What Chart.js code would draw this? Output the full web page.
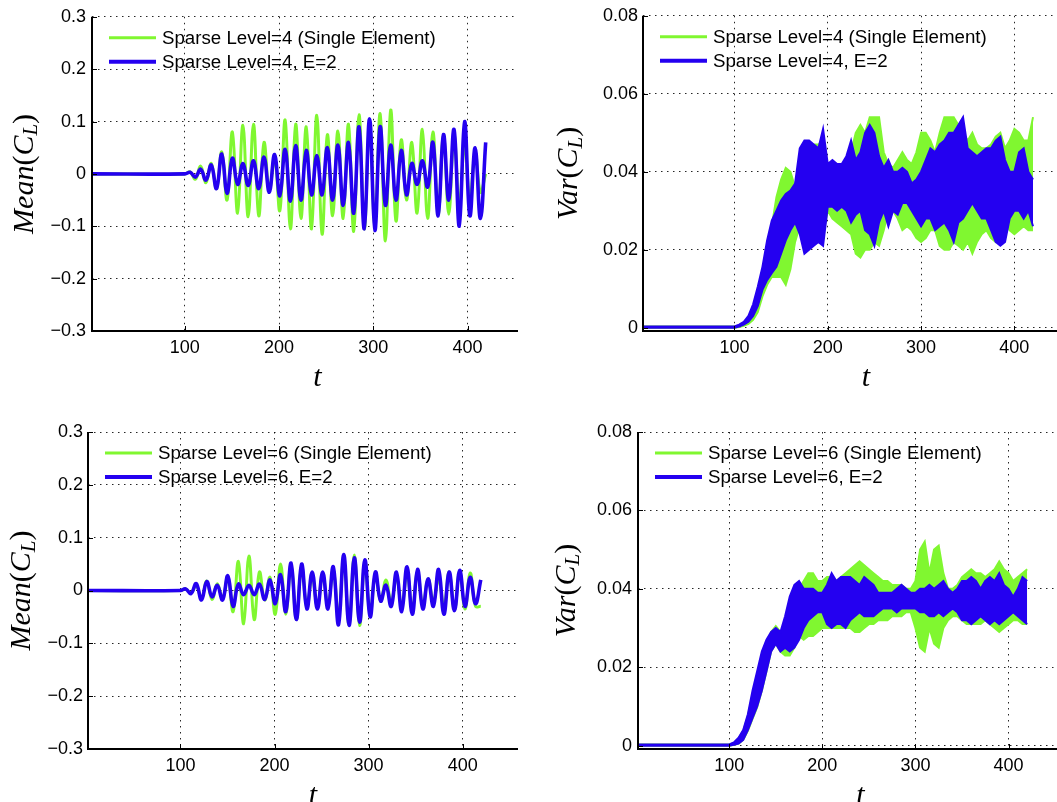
<!DOCTYPE html>
<html><head><meta charset="utf-8">
<script src="https://cdn.jsdelivr.net/npm/chart.js@4.4.1/dist/chart.umd.min.js"></script>
<style>
html,body{margin:0;padding:0;background:#fff;overflow:hidden;width:1057px;height:802px;}
.panel{position:absolute;overflow:hidden;}
.panel canvas{position:absolute;left:0;top:0;}
</style></head><body>
<div class="panel" style="left:0;top:0;width:518px;height:400px"><canvas id="c1" width="600" height="400"></canvas></div>
<div class="panel" style="left:530px;top:0;width:527px;height:400px"><canvas id="c2" width="600" height="400"></canvas></div>
<div class="panel" style="left:0;top:400px;width:518px;height:402px"><canvas id="c3" width="600" height="420"></canvas></div>
<div class="panel" style="left:530px;top:400px;width:527px;height:402px"><canvas id="c4" width="600" height="420"></canvas></div>
<script>
// ---------- data ----------
const tMean = [1.5,
100,105.6,111.2,116.8,122.4,128,133.6,139.2,144.8,150.4,
156,161.6,167.2,172.8,178.4,184,189.6,195.2,200.8,206.4,
212,217.6,223.2,228.8,234.4,240,245.6,251.2,256.8,262.4,
268,273.6,279.2,284.8,290.4,296,301.6,307.2,312.8,318.4,
324,329.6,335.2,340.8,346.4,352,357.6,363.2,368.8,374.4,
380,385.6,391.2,396.8,402.4,408,413.6,419.2];

const meanL4Single = [0,
0,0.004,-0.01,0.015,-0.017,0.02,-0.028,0.042,-0.05,0.08,
-0.075,0.093,-0.082,0.095,-0.08,0.06,-0.03,0.03,-0.07,0.103,
-0.105,0.095,-0.085,0.09,-0.105,0.112,-0.115,0.075,-0.08,0.082,
-0.085,0.095,-0.11,0.113,-0.105,0.095,-0.095,0.115,-0.128,0.122,
-0.09,0.065,-0.05,0.06,-0.075,0.085,-0.085,0.08,-0.077,0.075,
-0.077,0.075,-0.06,0.055,-0.047,0.04,-0.035,0];

const meanL4E2 = [0,
0,0.003,-0.006,0.009,-0.012,0.017,-0.028,0.038,-0.037,0.03,
-0.02,0.02,-0.022,0.025,-0.028,0.032,-0.035,0.037,-0.042,0.047,
-0.052,0.054,-0.05,0.045,-0.04,0.035,-0.04,0.05,-0.05,0.055,
-0.06,0.06,-0.075,0.09,-0.105,0.105,-0.108,0.09,-0.06,0.055,
-0.05,0.045,-0.04,0.02,-0.02,0.025,-0.025,0.06,-0.08,0.075,
-0.05,0.085,-0.1,0.1,-0.08,0.05,-0.085,0.06];

const meanL6Single = [0,
0,0.003,-0.005,0.01,-0.015,0.018,-0.017,0.013,-0.015,0.025,
-0.04,0.055,-0.063,0.065,-0.055,0.035,-0.018,0.025,-0.045,0.05,
-0.045,0.05,-0.055,0.045,-0.032,0.025,-0.028,0.03,-0.03,0.04,
-0.05,0.06,-0.065,0.067,-0.066,0.055,-0.045,0.03,-0.02,0.02,
-0.022,0.025,-0.03,0.032,-0.035,0.035,-0.03,0.022,-0.02,0.022,
-0.03,0.035,-0.037,0.037,-0.035,0.033,-0.03,-0.03];

const meanL6E2 = [0,
0,0.003,-0.006,0.013,-0.018,0.017,-0.012,0.01,-0.018,0.028,
-0.03,0.012,-0.008,0.01,-0.008,0.012,-0.017,0.02,-0.025,0.03,
-0.04,0.052,-0.055,0.05,-0.035,0.035,-0.035,0.035,-0.035,0.045,
-0.065,0.068,-0.066,0.062,-0.06,0.058,-0.05,0.035,-0.02,0.01,
-0.03,0.035,-0.04,0.045,-0.045,0.04,-0.035,0.022,-0.03,0.04,
-0.045,0.035,-0.038,0.038,-0.03,0.025,-0.025,0.02];

const tVar = [2,
100,105,110,115,120,125,130,135,140,145,
150,155,160,165,170,175,180,185,190,195,
200,205,210,215,220,225,230,235,240,245,
250,255,260,265,270,275,280,285,290,295,
300,305,310,315,320,325,330,335,340,345,
350,355,360,365,370,375,380,385,390,395,
400,405,410,415,420];

const varL4E2Hi = [0.0003,
0.0003,0.0008,0.0015,0.003,0.006,0.0105,0.0156,0.0224,0.0275,0.030,
0.0326,0.0343,0.0352,0.037,0.046,0.048,0.048,0.047,0.046,0.051,
0.042,0.043,0.042,0.042,0.044,0.048,0.043,0.045,0.05,0.052,
0.05,0.044,0.041,0.043,0.04,0.04,0.041,0.04,0.037,0.038,
0.04,0.043,0.046,0.045,0.047,0.048,0.05,0.05,0.052,0.054,
0.046,0.045,0.044,0.045,0.046,0.046,0.048,0.049,0.043,0.04,
0.04,0.045,0.046,0.04,0.038];
const varL4E2Lo = [0,
0,0.0003,0.0008,0.0015,0.003,0.0055,0.0097,0.0122,0.014,0.0156,
0.019,0.0224,0.025,0.027,0.024,0.019,0.02,0.021,0.022,0.021,
0.031,0.031,0.03,0.031,0.03,0.027,0.029,0.03,0.025,0.024,
0.021,0.027,0.03,0.026,0.03,0.029,0.032,0.032,0.03,0.028,
0.026,0.028,0.028,0.025,0.026,0.027,0.025,0.022,0.027,0.028,
0.03,0.032,0.03,0.028,0.028,0.025,0.022,0.021,0.022,0.028,
0.03,0.03,0.028,0.03,0.026];
const varL4SingleHi = [0.0003,
0.0003,0.0006,0.0012,0.0025,0.005,0.009,0.014,0.02,0.026,0.0335,
0.038,0.041,0.04,0.036,0.038,0.042,0.044,0.047,0.047,0.048,
0.04,0.038,0.036,0.035,0.04,0.045,0.05,0.052,0.05,0.054,
0.054,0.054,0.045,0.042,0.041,0.043,0.045,0.043,0.042,0.045,
0.05,0.05,0.048,0.045,0.05,0.054,0.054,0.054,0.052,0.05,
0.048,0.05,0.047,0.046,0.046,0.047,0.049,0.05,0.046,0.048,
0.051,0.05,0.048,0.048,0.054];
const varL4SingleLo = [0,
0,0.0002,0.0005,0.001,0.002,0.004,0.008,0.011,0.013,0.013,
0.013,0.011,0.015,0.022,0.026,0.027,0.026,0.023,0.022,0.024,
0.03,0.028,0.027,0.026,0.025,0.024,0.019,0.018,0.02,0.02,
0.022,0.021,0.025,0.03,0.03,0.028,0.025,0.026,0.025,0.023,
0.022,0.023,0.025,0.025,0.021,0.02,0.02,0.022,0.021,0.02,
0.022,0.019,0.022,0.024,0.025,0.023,0.022,0.024,0.027,0.025,
0.024,0.025,0.026,0.025,0.025];

const varL6E2Hi = [0.0003,
0.0003,0.0008,0.002,0.004,0.008,0.014,0.019,0.024,0.027,0.029,
0.03,0.029,0.033,0.038,0.041,0.042,0.04,0.04,0.04,0.039,
0.039,0.041,0.044,0.042,0.043,0.043,0.043,0.042,0.041,0.043,
0.042,0.041,0.039,0.039,0.039,0.039,0.04,0.041,0.04,0.039,
0.039,0.04,0.04,0.041,0.04,0.041,0.042,0.04,0.039,0.04,
0.042,0.042,0.043,0.042,0.04,0.042,0.043,0.042,0.044,0.041,
0.04,0.038,0.04,0.043,0.042];
const varL6E2Lo = [0,
0,0.0002,0.0005,0.0015,0.004,0.007,0.01,0.014,0.019,0.024,
0.026,0.024,0.025,0.024,0.025,0.027,0.03,0.032,0.033,0.034,
0.034,0.031,0.03,0.031,0.031,0.03,0.032,0.033,0.034,0.033,
0.033,0.033,0.034,0.035,0.035,0.035,0.034,0.035,0.035,0.035,
0.035,0.034,0.034,0.033,0.033,0.034,0.033,0.034,0.035,0.034,
0.032,0.032,0.031,0.032,0.033,0.032,0.031,0.032,0.031,0.032,
0.033,0.034,0.033,0.032,0.031];
const varL6SingleHi = [0.0003,
0.0003,0.0007,0.0018,0.0038,0.0075,0.013,0.018,0.023,0.026,0.029,
0.0305,0.029,0.029,0.033,0.036,0.04,0.042,0.044,0.044,0.042,
0.042,0.043,0.043,0.042,0.043,0.044,0.045,0.046,0.047,0.046,
0.045,0.044,0.043,0.042,0.042,0.041,0.041,0.041,0.04,0.04,
0.042,0.05,0.052,0.044,0.05,0.051,0.044,0.04,0.04,0.041,
0.043,0.044,0.045,0.044,0.044,0.043,0.044,0.045,0.047,0.045,
0.044,0.042,0.043,0.044,0.045];
const varL6SingleLo = [0,
0,0.0002,0.0005,0.0015,0.0038,0.0068,0.0098,0.014,0.019,0.024,
0.026,0.024,0.023,0.023,0.025,0.028,0.027,0.028,0.028,0.029,
0.03,0.03,0.03,0.03,0.03,0.03,0.03,0.029,0.029,0.03,
0.031,0.031,0.032,0.032,0.032,0.033,0.033,0.033,0.034,0.034,
0.03,0.025,0.024,0.03,0.026,0.025,0.03,0.032,0.033,0.033,
0.032,0.031,0.031,0.031,0.031,0.032,0.031,0.03,0.029,0.03,
0.031,0.032,0.032,0.031,0.031];

const legendL4 = ['Sparse Level=4 (Single Element)', 'Sparse Level=4, E=2'];
const legendL6 = ['Sparse Level=6 (Single Element)', 'Sparse Level=6, E=2'];
const meanTicks = [-0.3, -0.2, -0.1, 0, 0.1, 0.2, 0.3];
const meanTickLabels = ['\u22120.3', '\u22120.2', '\u22120.1', '0', '0.1', '0.2', '0.3'];
const varTicks = [0, 0.02, 0.04, 0.06, 0.08];
const varTickLabels = ['0', '0.02', '0.04', '0.06', '0.08'];
const tTicks = [100, 200, 300, 400];
const tTickLabels = ['100', '200', '300', '400'];

// ---------- styling ----------
const GREEN = '#80f730';
const BLUE = '#2400f0';
const SANS = '"Liberation Sans", Arial, Helvetica, sans-serif';
const SERIF = '"Liberation Serif", "Times New Roman", serif';

function xy(xs, ys) { return xs.map((x, i) => ({ x: x, y: ys[i] })); }

const decor = {
  id: 'decor',
  afterDatasetsDraw(chart, args, o) {
    const ctx = chart.ctx, a = chart.chartArea;
    const xs = chart.scales.x, ys = chart.scales.y;
    ctx.save();
    ctx.setLineDash([]);
    // inward tick marks
    ctx.strokeStyle = '#000'; ctx.lineWidth = 1;
    ctx.beginPath();
    ys.ticks.forEach(t => { const y = Math.round(ys.getPixelForValue(t.value)) + 0.5; ctx.moveTo(a.left, y); ctx.lineTo(a.left + 5, y); });
    xs.ticks.forEach(t => { const x = Math.round(xs.getPixelForValue(t.value)) + 0.5; ctx.moveTo(x, a.bottom); ctx.lineTo(x, a.bottom - 5); });
    ctx.stroke();
    // spines
    ctx.lineWidth = 2;
    ctx.beginPath();
    ctx.moveTo(a.left, a.top); ctx.lineTo(a.left, a.bottom);
    ctx.moveTo(a.left - 1, a.bottom); ctx.lineTo(chart.width, a.bottom);
    ctx.stroke();
    // legend
    ctx.font = '18.7px ' + SANS;
    ctx.textBaseline = 'middle'; ctx.textAlign = 'left';
    o.legend.forEach((it, i) => {
      const y = a.top + 21 + i * 24;
      ctx.strokeStyle = it.color; ctx.lineWidth = it.width;
      ctx.beginPath(); ctx.moveTo(a.left + 17, y); ctx.lineTo(a.left + 64, y); ctx.stroke();
      ctx.fillStyle = '#000';
      ctx.fillText(it.label, a.left + 70, y + 1);
    });
    // x title
    ctx.font = 'italic 30px ' + SERIF;
    ctx.textAlign = 'center'; ctx.textBaseline = 'alphabetic';
    ctx.fillText('t', (a.left + a.right) / 2, a.bottom + 55);
    // y title with subscript
    ctx.translate(o.ylabelX, (a.top + a.bottom) / 2);
    ctx.rotate(-Math.PI / 2);
    const S = 30;
    const parts = [
      { t: o.ylabel, f: 'italic ' + S + 'px ' + SERIF, dy: 0 },
      { t: '(', f: S + 'px ' + SERIF, dy: 0 },
      { t: 'C', f: 'italic ' + S + 'px ' + SERIF, dy: 0 },
      { t: 'L', f: 'italic ' + Math.round(S * 0.7) + 'px ' + SERIF, dy: S * 0.22 },
      { t: ')', f: S + 'px ' + SERIF, dy: 0 }
    ];
    let total = 0;
    parts.forEach(p => { ctx.font = p.f; p.w = ctx.measureText(p.t).width; total += p.w; });
    let x = -total / 2;
    ctx.textAlign = 'left'; ctx.textBaseline = 'middle';
    parts.forEach(p => { ctx.font = p.f; ctx.fillText(p.t, x, p.dy); x += p.w; });
    ctx.restore();
  }
};

function makePanel(id, g, ds) {
  const cv = document.getElementById(id);
  const W = cv.width, H = cv.height;
  const gridOpts = { color: 'rgba(0,0,0,0.85)', lineWidth: 1, drawTicks: false };
  const borderOpts = { display: false, dash: [1.5, 4.5] };
  return new Chart(cv, {
    type: 'line',
    data: { datasets: ds },
    options: {
      responsive: false, animation: false, events: [],
      layout: { padding: { left: 0, top: g.top, right: W - g.right, bottom: 0 } },
      plugins: {
        legend: { display: false }, tooltip: { enabled: false },
        decor: { legend: g.legend, ylabel: g.ylabel, ylabelX: g.ylabelX }
      },
      scales: {
        x: {
          type: 'linear', min: g.xmin, max: 480,
          afterBuildTicks: s => { s.ticks = tTicks.map(v => ({ value: v })); },
          afterFit: s => { s.height = H - g.bottom; },
          ticks: { autoSkip: false, maxRotation: 0, padding: 6, color: '#000', font: { family: SANS, size: 18 },
                   callback: (v, i) => tTickLabels[i] },
          grid: gridOpts, border: borderOpts
        },
        y: {
          type: 'linear', min: g.ymin, max: g.ymax,
          afterBuildTicks: s => { s.ticks = g.yticks.map(v => ({ value: v })); },
          afterFit: s => { s.width = g.left; },
          ticks: { autoSkip: false, padding: g.ypad, color: '#000', font: { family: SANS, size: 18 },
                   callback: (v, i) => g.ylabels[i] },
          grid: gridOpts, border: borderOpts
        }
      }
    },
    plugins: [decor]
  });
}

function lineDs(xs, ys, color, w) {
  return { data: xy(xs, ys), borderColor: color, borderWidth: w, pointRadius: 0, tension: 0.42, fill: false };
}
function bandDs(xs, hi, lo, color) {
  return [
    { data: xy(xs, hi), borderColor: color, backgroundColor: color, borderWidth: 2, pointRadius: 0, tension: 0, fill: '+1' },
    { data: xy(xs, lo), borderColor: color, borderWidth: 2, pointRadius: 0, tension: 0, fill: false }
  ];
}
function legendItems(labels) {
  return [{ label: labels[0], color: GREEN, width: 3 }, { label: labels[1], color: BLUE, width: 4 }];
}

makePanel('c1', { left: 92, top: 14, right: 543, bottom: 331, xmin: 1.5, ymin: -0.3, ymax: 0.3,
  yticks: meanTicks, ylabels: meanTickLabels, ypad: 6, ylabel: 'Mean', ylabelX: 25, legend: legendItems(legendL4) },
  [lineDs(tMean, meanL4E2, BLUE, 3.6), lineDs(tMean, meanL4Single, GREEN, 3)]);

makePanel('c2', { left: 113, top: 14, right: 559, bottom: 331, xmin: 2, ymin: -0.00085, ymax: 0.08,
  yticks: varTicks, ylabels: varTickLabels, ypad: 5, ylabel: 'Var', ylabelX: 39.5, legend: legendItems(legendL4) },
  [].concat(bandDs(tVar, varL4E2Hi, varL4E2Lo, BLUE), bandDs(tVar, varL4SingleHi, varL4SingleLo, GREEN)));

makePanel('c3', { left: 88, top: 32, right: 538, bottom: 349, xmin: 1.8, ymin: -0.3, ymax: 0.3,
  yticks: meanTicks, ylabels: meanTickLabels, ypad: 5, ylabel: 'Mean', ylabelX: 22.5, legend: legendItems(legendL6) },
  [lineDs(tMean, meanL6E2, BLUE, 3.6), lineDs(tMean, meanL6Single, GREEN, 3)]);

makePanel('c4', { left: 108, top: 32, right: 553, bottom: 349, xmin: 2, ymin: -0.00085, ymax: 0.08,
  yticks: varTicks, ylabels: varTickLabels, ypad: 6, ylabel: 'Var', ylabelX: 36.7, legend: legendItems(legendL6) },
  [].concat(bandDs(tVar, varL6E2Hi, varL6E2Lo, BLUE), bandDs(tVar, varL6SingleHi, varL6SingleLo, GREEN)));
</script>
</body></html>
